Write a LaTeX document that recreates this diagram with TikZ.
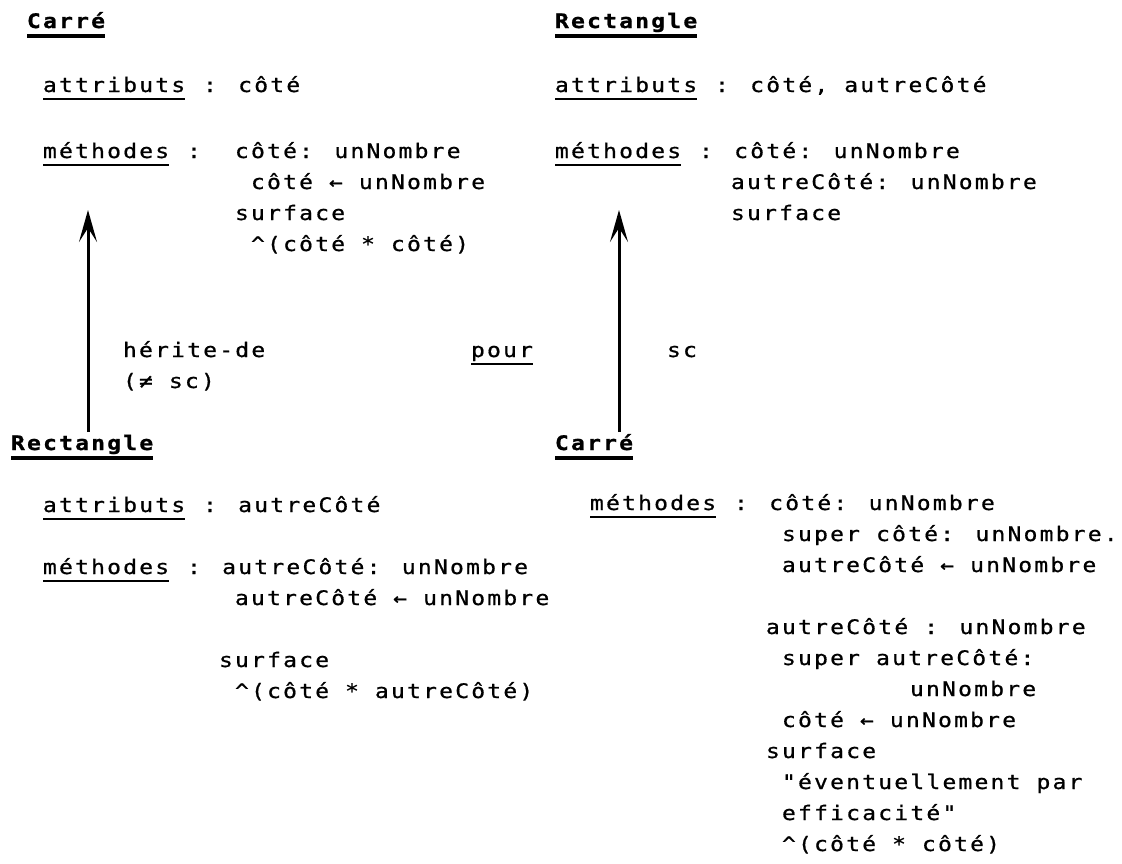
\documentclass[tikz,border=0pt]{standalone}
\usepackage{fontspec}
\usetikzlibrary{arrows.meta}
% typewriter look: monospaced face, widened and spread to a 16pt pitch
\newfontfamily\typeface{DejaVu Sans Mono}[FakeStretch=1.15, LetterSpace=11,
  FakeBold=0.8, BoldFeatures={FakeBold=1}]
\newcommand\twfont{\typeface\fontsize{20pt}{31pt}\selectfont
  \fontdimen2\font=16.04pt\fontdimen3\font=0pt\fontdimen4\font=0pt}
\newcommand\twbold{\typeface\bfseries\fontsize{20pt}{31pt}\selectfont
  \fontdimen2\font=16.04pt\fontdimen3\font=0pt\fontdimen4\font=0pt}
\tikzset{
  txt/.style={anchor=base west, inner sep=0pt, outer sep=0pt, font=\twfont},
  ttl/.style={anchor=base west, inner sep=0pt, outer sep=0pt, font=\twbold},
  uline/.style={line width=2.4pt},
  tline/.style={line width=3.2pt},
  inherit/.style={line width=3pt, -{Stealth[length=32pt,width=18pt,inset=14pt]}},
}
\begin{document}
\begin{tikzpicture}[x=1pt,y=-1pt]
\fill[white] (0,0) rectangle (1122,863);
\useasboundingbox (0,0) rectangle (1122,863);

% --- Carré (upper left)
\node[ttl] (c1t) at (27,28) {Carré};
\node[txt] (c1ak) at (43,92) {attributs};
\node[txt] (c1av) at (203,92) {: côté};
\node[txt] (c1mk) at (43,158) {méthodes};
\node[txt] (c1mc) at (187,158) {:};
\node[txt] (c1m1) at (235,158) {côté: unNombre};
\node[txt] (c1m2) at (251,189) {côté ← unNombre};
\node[txt] (c1m3) at (235,220) {surface};
\node[txt] (c1m4) at (251,251) {\textasciicircum(côté * côté)};

% --- Rectangle (upper right)
\node[ttl] (r1t) at (555,28) {Rectangle};
\node[txt] (r1ak) at (555,92) {attributs};
\node[txt] (r1av) at (715,92) {: côté, autreCôté};
\node[txt] (r1mk) at (555,158) {méthodes};
\node[txt] (r1mv) at (699,158) {: côté: unNombre};
\node[txt] (r1m2) at (731,189) {autreCôté: unNombre};
\node[txt] (r1m3) at (731,220) {surface};

% --- labels between the two halves
\node[txt] (lbl1) at (123,357) {hérite-de};
\node[txt] (lbl2) at (123,388) {(≠ sc)};
\node[txt] (pour) at (471,357) {pour};
\node[txt] (lbl3) at (667,357) {sc};

% --- Rectangle (lower left)
\node[ttl] (r2t) at (11,450) {Rectangle};
\node[txt] (r2ak) at (43,512) {attributs};
\node[txt] (r2av) at (203,512) {: autreCôté};
\node[txt] (r2mk) at (43,574) {méthodes};
\node[txt] (r2mv) at (187,574) {: autreCôté: unNombre};
\node[txt] (r2m2) at (235,605) {autreCôté ← unNombre};
\node[txt] (r2m3) at (219,667) {surface};
\node[txt] (r2m4) at (235,698) {\textasciicircum(côté * autreCôté)};

% --- Carré (lower right)
\node[ttl] (c2t) at (555,450) {Carré};
\node[txt] (c2mk) at (590,510) {méthodes};
\node[txt] (c2mv) at (734,510) {: côté: unNombre};
\node[txt] (c2m1) at (782,541) {super côté: unNombre.};
\node[txt] (c2m2) at (782,572) {autreCôté ← unNombre};
\node[txt] (c2m3) at (766,634) {autreCôté : unNombre};
\node[txt] (c2m4) at (782,665) {super autreCôté:};
\node[txt] (c2m5) at (910,696) {unNombre};
\node[txt] (c2m6) at (782,727) {côté ← unNombre};
\node[txt] (c2m7) at (766,758) {surface};
\node[txt] (c2m8) at (782,789) {"éventuellement par};
\node[txt] (c2m9) at (782,820) {efficacité"};
\node[txt] (c2m10) at (782,851) {\textasciicircum(côté * côté)};

% underlined keywords and titles
\foreach \n in {c1ak,c1mk,r1ak,r1mk,r2ak,r2mk,c2mk,pour}
  \draw[uline] ([yshift=-7pt]\n.base west) -- ([yshift=-7pt]\n.base east);
\foreach \n in {c1t,r1t,r2t,c2t}
  \draw[tline] ([yshift=-8pt]\n.base west) -- ([yshift=-8pt]\n.base east);

% inheritance arrows
\coordinate (a1b) at (88,432);
\coordinate (a1t) at (88,210);
\coordinate (a2b) at (619,432);
\coordinate (a2t) at (619,210);
\draw[inherit] (a1b) -- (a1t);
\draw[inherit] (a2b) -- (a2t);
\end{tikzpicture}
\end{document}
